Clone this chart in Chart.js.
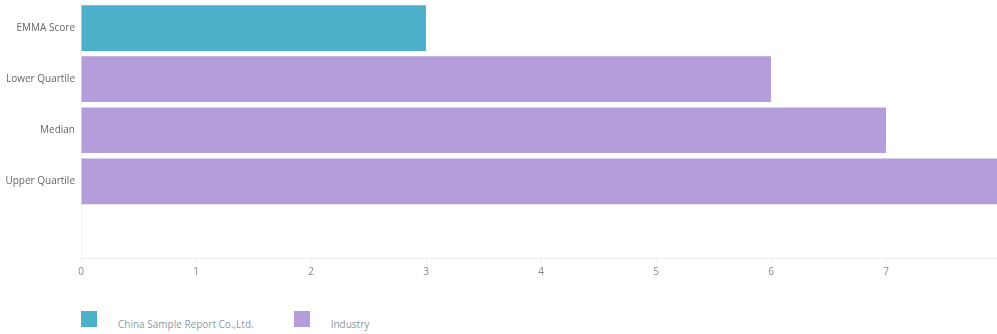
<!DOCTYPE html>
<html>
<head>
<meta charset="utf-8">
<script src="https://cdn.jsdelivr.net/npm/chart.js@4/dist/chart.umd.min.js"></script>
<style>
  html, body { margin: 0; padding: 0; background: #fff; }
  #wrap { position: relative; width: 997px; height: 290px; }
  #legend { position: absolute; left: 81px; top: 311px; display: flex; font-family: "Open Sans", sans-serif; font-size: 10px; line-height: 14px; color: #8b9ba6; }
  .item { display: flex; align-items: flex-start; margin-right: 40px; }
  .box { width: 16px; height: 16px; margin-right: 21px; }
  .txt { margin-top: 6px; }
</style>
</head>
<body>
<div id="wrap"><canvas id="chart"></canvas></div>
<div id="legend"></div>
<script>
const categories = ['EMMA Score', 'Lower Quartile', 'Median', 'Upper Quartile', ''];
const companyValues = [3, null, null, null, null];
const industryValues = [null, 6, 7, 8, null];
const xTicks = [0, 1, 2, 3, 4, 5, 6, 7];
const seriesNames = ['China Sample Report Co.,Ltd.', 'Industry'];
const colors = ['#4db1cb', '#b39ddb'];

const font = { family: '"Open Sans", sans-serif', size: 10 };

const chart = new Chart(document.getElementById('chart'), {
  type: 'bar',
  data: {
    labels: categories,
    datasets: [
      { label: seriesNames[0], data: companyValues, backgroundColor: colors[0] },
      { label: seriesNames[1], data: industryValues, backgroundColor: colors[1] }
    ]
  },
  options: {
    indexAxis: 'y',
    responsive: true,
    maintainAspectRatio: false,
    animation: false,
    layout: { padding: { top: 2.5, right: 0, left: 0, bottom: 0 } },
    datasets: {
      bar: { grouped: false, categoryPercentage: 1, barPercentage: 0.895 }
    },
    scales: {
      x: {
        min: 0,
        max: 7.965,
        afterBuildTicks: s => { s.ticks = xTicks.map(v => ({ value: v })); },
        afterFit: s => { s.height = 32; s.paddingLeft = 0; s.paddingRight = 0; },
        grid: { drawOnChartArea: false, color: '#eeeeee', tickLength: 5 },
        border: { color: '#eeeeee' },
        ticks: { color: '#888', font: font, padding: 3 }
      },
      y: {
        afterFit: s => { s.width = 81; s.paddingTop = 0; s.paddingBottom = 0; },
        grid: { display: false, drawTicks: false },
        border: { color: '#f2f2f2' },
        ticks: { color: '#666', font: font, padding: 6 }
      }
    },
    plugins: {
      legend: { display: false },
      tooltip: { enabled: false }
    }
  }
});

// legenda pod grafem
const legendEl = document.getElementById('legend');
seriesNames.forEach((name, i) => {
  const item = document.createElement('div');
  item.className = 'item';
  item.innerHTML = '<span class="box" style="background:' + colors[i] + '"></span><span class="txt">' + name + '</span>';
  legendEl.appendChild(item);
});
</script>
</body>
</html>
